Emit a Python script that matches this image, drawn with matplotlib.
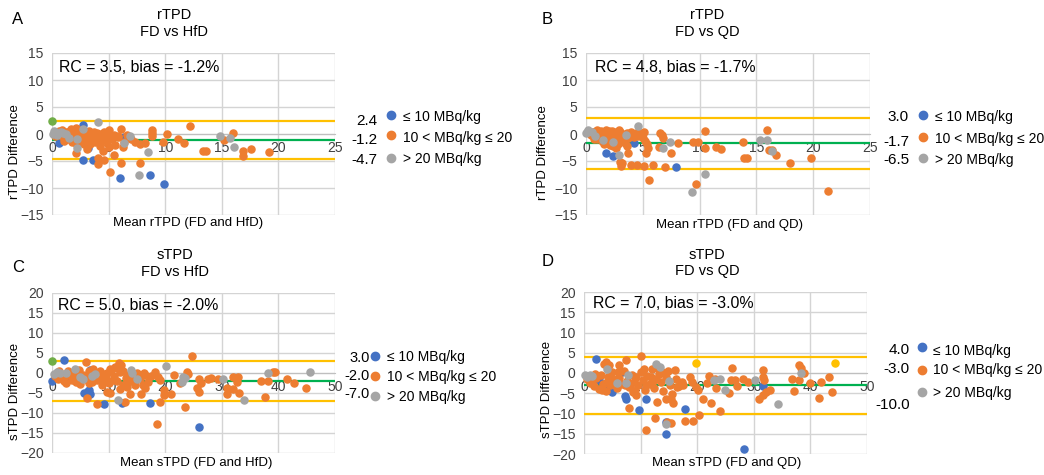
import matplotlib
matplotlib.use('Agg')
import matplotlib.pyplot as plt

plt.rcParams['font.family'] = ['Liberation Sans', 'DejaVu Sans']

BLUE = '#4472C4'
ORANGE = '#ED7D31'
GRAY = '#A5A5A5'
YELLOW = '#FFC000'
GREEN_PT = '#70AD47'
GREEN_LINE = '#00B050'

legend_labels = ['\u2264 10 MBq/kg', '10 < MBq/kg \u2264 20', '> 20 MBq/kg']

# ---------- panel A : rTPD, FD vs HfD ----------
a_blue_x = [0.6, 2.7, 3.2, 2.7, 3.6, 6.0, 8.7, 9.9, 6.4, 1.0]
a_blue_y = [-1.6, 1.7, -2.6, -4.8, -4.8, -8.15, -7.5, -9.3, -0.6, -1.2]
a_orange_x = [12.2, 6.1, 8.8, 8.8, 8.8, 10.2, 16.0, 15.2, 11.1, 11.7, 13.3, 13.6, 16.9, 16.9, 17.6, 19.2,
              9.8, 8.2, 7.75, 7.3, 6.4, 6.3, 4.1, 4.1, 4.6, 5.5, 5.1, 6.1, 7.75, 2.1, 3.1, 4.5, 5.0, 7.0,
              5.8, 6.6,
              0.5, 0.7, 0.9, 1.0, 1.2, 1.3, 1.5, 1.6, 1.7, 1.8, 1.9, 2.0, 2.1, 2.2, 2.3, 2.4, 2.5, 2.6,
              2.7, 2.8, 2.9, 3.0, 3.1, 3.2, 3.3, 3.4, 3.5, 3.6, 3.7, 3.8, 3.9, 4.0, 4.1, 4.2, 4.3, 4.4,
              4.5, 4.6, 4.8, 4.9, 5.0, 5.1, 5.3, 5.5, 5.6, 5.8, 0.3, 0.6, 1.1, 1.4, 2.0, 2.5, 3.0, 3.4,
              2.1, 1.8]
a_orange_y = [1.5, 0.9, 0.7, 0.1, -0.4, 0.0, 0.1, -1.1, -1.0, -1.7, -3.1, -3.1, -3.1, -4.1, -2.7, -3.3,
              -1.4, -1.7, -1.9, -1.4, -1.4, -2.4, -4.5, -5.6, -4.8, -3.9, -7.0, -5.3, -5.4, -3.5, -2.8,
              -3.1, -2.4, -0.9, -0.3, -0.2,
              0.3, -0.2, 0.8, -0.5, 0.4, -1.0, 0.1, -0.6, 0.9, -1.5, -0.1, 0.5, -0.9, -2.0, 0.2, -0.4,
              -1.2, 0.7, -0.2, -1.8, 0.3, -0.7, -1.3, 0.0, 0.6, -0.5, -1.0, -0.2, 0.3, -1.5, -0.3, 0.2,
              -0.8, -2.3, 0.0, -1.2, -0.4, 0.4, -0.6, -1.6, 0.8, -0.1, -0.9, -0.2, -2.0, -0.5, -0.4,
              0.5, -1.3, 0.3, -1.4, 0.3, 0.3, -1.9, 1.1, 0.4]
a_gray_x = [0.1, 0.3, 0.5, 0.8, 0.4, 1.2, 1.5, 2.2, 2.7, 2.2, 4.1, 14.85, 15.7, 16.1, 8.5, 7.7, 6.4,
            6.9, 0.2, 1.0]
a_gray_y = [0.0, 0.3, 0.1, 0.3, -0.2, 0.0, -0.7, -0.9, 1.0, -2.65, 2.3, -0.4, -0.8, -2.4, -3.4, -7.5,
            -1.7, -0.4, 0.5, 0.2]
a_extra_x = [0.0]
a_extra_y = [2.4]

# ---------- panel B : rTPD, FD vs QD ----------
b_blue_x = [1.8, 2.35, 4.2, 7.9]
b_blue_y = [-3.6, -4.1, -1.7, -6.2]
b_orange_x = [10.5, 15.9, 13.8, 13.9, 14.2, 16.1, 16.4, 16.7, 18.0, 19.8, 21.3, 9.65, 5.55, 6.95, 5.9,
              5.1, 4.5, 4.0, 3.1, 3.0, 3.2, 3.7, 5.3, 5.5, 6.4, 7.5, 8.1, 6.5, 6.7, 6.8, 9.45, 9.9,
              11.4, 11.9, 10.5, 2.6, 2.1,
              0.4, 0.6, 0.8, 0.9, 1.0, 1.1, 1.2, 1.3, 1.4, 1.5, 1.6, 1.7, 1.8, 1.9, 2.0, 2.1, 2.2, 2.3,
              2.4, 2.5, 2.6, 2.7, 2.8, 2.9, 3.0, 3.1, 3.2, 3.3, 3.4, 3.6, 3.7, 3.9, 4.0, 4.2, 4.4, 4.6,
              4.8, 5.0, 5.1, 5.2, 5.4, 2.4, 1.6, 3.6, 1.0, 2.0, 2.6, 3.0, 0.7]
b_orange_y = [0.6, 0.7, -1.5, -4.4, -4.4, -3.0, -3.0, -3.9, -5.4, -4.5, -10.6, -9.3, -8.6, -6.05, -5.8,
              -5.9, -5.8, -5.8, -6.0, -5.1, -5.4, -3.5, -3.6, -2.65, -2.35, -3.5, -1.7, 0.25, -0.2, -0.8,
              -1.5, -1.5, -2.35, -2.8, -2.5, -2.6, -2.0,
              -0.2, 0.3, -0.6, 0.5, -1.0, 0.1, -0.4, 0.6, -1.3, -0.1, 0.4, -0.8, 0.7, -1.6, -0.3, 0.2,
              -0.9, 0.6, -0.5, -1.2, 0.3, -0.1, -1.8, 0.8, -0.6, 0.1, -1.1, -0.3, -1.6, 0.2, -0.8,
              -0.2, 0.3, -0.6, 0.2, -0.3, 0.1, -0.7, 0.3, -1.3, -1.8, -2.3, -1.9, -2.2, 0.7, 0.5,
              -0.7, 0.4, -1.0]
b_gray_x = [0.0, 0.2, 0.1, 0.8, 1.5, 2.35, 3.5, 4.6, 2.9, 6.8, 7.4, 10.5, 9.3, 15.3, 15.9, 16.4, 0.5]
b_gray_y = [0.1, 0.7, 0.3, -0.4, -1.2, -1.5, -0.2, 1.5, -3.9, -2.5, -1.4, -7.4, -10.8, -1.2, -1.2,
            -3.1, 0.4]

# ---------- panel C : sTPD, FD vs HfD ----------
c_blue_x = [2.2, 0.0, 6.7, 5.7, 6.3, 6.8, 6.6, 9.2, 12.3, 17.3, 25.9, 2.8]
c_blue_y = [3.25, -2.0, 0.75, -4.9, -4.5, -5.3, -4.25, -7.75, -7.6, -7.4, -13.6, -1.5]
c_orange_x = [24.7, 5.95, 11.8, 12.2, 11.1, 39.1, 39.4, 41.5, 42.8, 44.9, 36.9, 38.1, 37.6, 31.9, 32.9,
              32.6, 32.0, 33.1, 30.9, 30.9, 28.1, 29.4, 25.9, 26.4, 25.7, 25.9, 23.5, 23.8, 22.6, 21.5,
              21.0, 18.5, 19.0, 19.7, 19.8, 18.2, 18.8, 19.1, 15.8, 16.4, 17.0, 13.8, 12.9, 10.2, 9.8,
              8.0, 6.2, 16.2, 17.5, 14.7, 13.2, 12.0, 8.9, 27.5, 24.0,
              0.5, 1.0, 1.5, 2.0, 2.5, 3.0, 3.5, 4.0, 4.5, 5.0, 5.5, 6.0, 6.5, 7.0, 7.5, 8.0, 8.5,
              9.0, 9.5, 10.0, 10.5, 11.0, 11.5, 12.0, 12.5, 13.0, 13.5, 14.0, 14.5, 15.5, 16.0, 16.5,
              1.2, 2.8, 4.2, 5.8, 7.2, 8.8, 9.8, 10.8, 11.4, 12.6, 3.3, 6.6, 9.2, 13.2, 15.0, 2.2,
              4.8, 10.2]
c_orange_y = [4.3, 2.7, 2.4, 2.0, 1.6, 0.2, 0.2, -1.5, -2.4, -3.8, -1.9, -1.9, -5.9, -0.9, -1.1, -2.3,
              -4.1, -4.9, -3.8, -5.3, -1.3, -1.5, -1.6, -2.4, -3.8, -4.7, -8.4, 0.2, -2.4, -0.5, -5.2,
              -12.8, -7.3, -5.5, -4.25, 0.3, -0.9, -1.75, -5.25, -3.7, -2.2, -5.2, -7.2, -5.1, -4.7,
              -7.75, -6.2, 0.1, -0.8, -2.9, -3.4, -3.9, -3.1, -1.6, -0.2,
              -0.8, -1.5, -0.2, -1.0, -2.5, -0.5, -1.8, 0.3, -1.2, -2.8, -0.6, -1.6, 0.5, -2.2, -0.9,
              -1.8, 0.4, -0.3, -1.4, -2.6, 0.8, -0.8, -1.9, 0.2, -2.9, -1.3, -0.4, -2.1, -0.9, -1.5,
              -3.0, -0.5, 0.5, 0.6, -2.2, -1.0, 0.9, -1.2, 0.1, -1.7, 1.2, 0.4, -0.2, -2.6, -2.2,
              -1.8, 0.0, -1.9, 0.8, 1.1]
c_gray_x = [0.3, 0.8, 1.5, 4.1, 5.0, 7.6, 7.0, 13.9, 14.1, 15.0, 11.6, 20.1, 23.2, 23.5, 22.9, 30.3,
            33.9, 38.2, 45.6, 2.5, 5.5]
c_gray_y = [-0.2, 0.2, 0.0, 1.0, -1.0, -0.3, -0.8, 0.75, -0.1, -1.6, -6.75, 1.75, -0.9, -1.3, -2.2,
            -1.6, -6.75, -0.1, 0.3, 0.1, -1.5]
c_extra_x = [0.0]
c_extra_y = [3.0]

# ---------- panel D : sTPD, FD vs QD ----------
d_blue_x = [2.2, 6.8, 5.0, 7.2, 7.5, 10.9, 9.7, 17.8, 14.5, 14.5, 28.3, 31.7, 2.6, 4.5]
d_blue_y = [3.4, 0.3, -4.6, -5.8, -6.5, -6.5, -9.1, -9.0, -12.0, -15.1, -18.8, -3.2, -1.8, -3.3]
d_orange_x = [10.1, 26.1, 16.0, 18.7, 22.1, 23.1, 23.4, 26.0, 25.7, 26.6, 28.1, 31.6, 31.6, 31.8, 31.0,
              31.6, 32.2, 32.8, 36.8, 37.1, 37.9, 38.3, 37.9, 38.9, 40.0, 41.6, 43.2, 43.8, 41.8, 24.0,
              22.5, 21.0, 20.3, 19.3, 17.9, 20.1, 19.7, 19.0, 15.8, 15.4, 15.5, 15.3, 14.7, 12.6, 11.0,
              12.96, 14.4, 7.9, 9.2, 8.7, 7.5, 6.1, 3.9, 4.5, 21.8, 27.1, 17.5, 16.5, 29.0, 3.5,
              0.6, 1.0, 1.4, 1.8, 2.2, 2.6, 3.0, 3.4, 3.8, 4.2, 4.6, 5.0, 5.4, 5.8, 6.2, 6.6, 7.0,
              7.6, 8.0, 8.4, 8.8, 9.2, 9.6, 10.0, 10.4, 10.8, 11.2, 11.6, 12.0, 12.4, 12.8, 13.2,
              13.6, 14.0, 14.4, 14.8, 15.2, 16.2, 16.8, 17.3, 2.0, 4.0, 6.0, 8.2, 10.6, 12.2, 3.2,
              9.0, 11.0, 13.0, 1.5, 5.2, 7.2, 11.8, 13.8]
d_orange_y = [4.2, 1.15, 0.74, -0.9, -0.74, -1.56, -3.8, -1.7, -4.9, -1.7, -1.6, 0.74, -0.9, -1.7, -6.3,
              -5.4, -4.6, -4.2, -1.56, -4.4, 2.0, 1.15, -1.7, -0.1, -2.4, -6.1, -1.1, -4.6, -2.1, -9.5,
              -7.5, -6.5, -10.4, -11.8, -11.9, -4.2, -3.4, -2.1, -7.5, -6.3, -5.3, -12.4, -12.0, -11.2,
              -14.1, -7.1, -6.5, -8.7, -5.4, -4.6, 3.2, 2.0, 2.8, 2.0, -2.5, -3.3, -3.0, -3.5, -2.2, 2.3,
              -1.5, -2.5, -0.8, -3.2, -1.2, -4.0, -0.4, -2.6, -4.5, -1.0, -3.0, 0.3, -2.0, -3.8, -1.3,
              -2.8, 0.6, -1.9, -3.5, -0.6, -2.3, -1.0, -3.0, 0.2, -1.7, -4.2, -0.8, -2.6, 1.0, -3.6,
              -1.4, -0.3, -2.2, -4.5, -1.1, 0.5, -2.9, -1.6, -3.2, -2.1, -0.2, -2.2, 0.2, -2.8, 0.9,
              -2.0, -4.2, -4.2, -3.0, 1.2, -1.8, -1.5, -3.0, -1.0, 0.2]
d_gray_x = [0.12, 1.0, 0.5, 1.5, 4.1, 7.7, 5.9, 7.5, 12.8, 13.5, 14.4, 23.0, 24.1, 24.9, 30.2, 34.2,
            38.3, 15.1]
d_gray_y = [-0.5, -0.5, -0.9, -0.8, 0.9, -0.5, -2.4, -2.55, 2.2, 1.6, -12.7, -1.7, -1.6, -4.2, -1.7,
            -7.65, -0.1, -1.9]
d_extra_x = [19.7, 44.3]
d_extra_y = [2.4, 2.4]

# limits of agreement: upper, bias, lower
a_loa = [2.4, -1.2, -4.7]
b_loa = [3.0, -1.7, -6.5]
c_loa = [3.0, -2.0, -7.0]
d_loa = [4.0, -3.0, -10.0]

W, H = 1044, 475
fig = plt.figure(figsize=(W / 100, H / 100), dpi=100)


def px(x, y):
    return x / W, 1 - y / H


def make_panel(rect, xmax, xstep, ylim, blue, orange, gray, extra, extra_color, loa,
               rc_text, rc_xy, ylabel, xlabel, xlabel_xy, ylabel_xy):
    left, top, right, bottom = rect
    ax = fig.add_axes([left / W, 1 - bottom / H, (right - left) / W, (bottom - top) / H])
    ax.set_xlim(0, xmax)
    ax.set_ylim(-ylim, ylim)
    ax.set_xticks(range(0, xmax + 1, xstep))
    ax.set_yticks(range(-ylim, ylim + 1, 5))
    ax.grid(True, color='#d4d4d4', linewidth=1.0)
    ax.set_axisbelow(True)
    for s in ['top', 'right', 'left']:
        ax.spines[s].set_visible(False)
    ax.spines['bottom'].set_position(('data', 0))
    ax.spines['bottom'].set_color('#bfbfbf')
    ax.tick_params(length=0, labelsize=10, labelcolor='#404040')
    ax.tick_params(axis='x', pad=5)
    ax.tick_params(axis='y', pad=6)

    ax.axhline(loa[0], color=YELLOW, lw=1.6, zorder=2)
    ax.axhline(loa[2], color=YELLOW, lw=1.6, zorder=2)
    ax.axhline(loa[1], color=GREEN_LINE, lw=1.6, zorder=2)

    ax.scatter(blue[0], blue[1], s=26, color=BLUE, zorder=3, clip_on=False)
    ax.scatter(orange[0], orange[1], s=26, color=ORANGE, zorder=3, clip_on=False)
    ax.scatter(gray[0], gray[1], s=26, color=GRAY, zorder=3, clip_on=False)
    ax.scatter(extra[0], extra[1], s=26, color=extra_color, zorder=3, clip_on=False)

    fig.text(*px(*rc_xy), rc_text, fontsize=11.4, va='center', ha='left')
    fig.text(*px(*ylabel_xy), ylabel, fontsize=9.5, rotation=90, va='center', ha='center')
    fig.text(*px(*xlabel_xy), xlabel, fontsize=9.5, va='center', ha='center')
    return ax


def add_titles(letter, letter_xy, t1, t2, cx, y1, y2):
    fig.text(*px(*letter_xy), letter, fontsize=12, va='center', ha='left')
    fig.text(*px(cx, y1), t1, fontsize=10.5, va='center', ha='center')
    fig.text(*px(cx, y2), t2, fontsize=10.5, va='center', ha='center')


def add_legend(loa, num_right, num_ys, mark_x, mark_ys, text_x, text_ys, numsize=11):
    for v, y in zip(loa, num_ys):
        fig.text(*px(num_right, y), '{:.1f}'.format(v), fontsize=numsize, va='center', ha='right')
    for col, y, lab, ty in zip([BLUE, ORANGE, GRAY], mark_ys, legend_labels, text_ys):
        fig.lines.append(plt.Line2D([mark_x / W], [1 - y / H], marker='o', markersize=6,
                                    color=col, transform=fig.transFigure, figure=fig))
        fig.text(*px(text_x, ty), lab, fontsize=10, va='center', ha='left')


# A
make_panel((52, 53, 335, 215), 25, 5, 15, (a_blue_x, a_blue_y), (a_orange_x, a_orange_y),
           (a_gray_x, a_gray_y), (a_extra_x, a_extra_y), GREEN_PT, a_loa,
           'RC = 3.5, bias = -1.2%', (59, 67), 'rTPD Difference', 'Mean rTPD (FD and HfD)',
           (188, 223), (15, 152))
add_titles('A', (12, 20), 'rTPD', 'FD vs HfD', 174, 15, 32)
add_legend(a_loa, 377, [121, 140, 160], 391, [115, 135, 158], 403, [117, 138, 159])

# B
make_panel((586, 53, 870, 215), 25, 5, 15, (b_blue_x, b_blue_y), (b_orange_x, b_orange_y),
           (b_gray_x, b_gray_y), ([], []), GRAY, b_loa,
           'RC = 4.8, bias = -1.7%', (595, 68), 'rTPD Difference', 'Mean rTPD (FD and QD)',
           (729, 225), (543, 153))
add_titles('B', (542, 20), 'rTPD', 'FD vs QD', 707, 15, 32)
add_legend(b_loa, 909, [117, 142, 160], 923, [115, 137, 158], 935, [117, 139, 160])

# C
make_panel((52, 293, 335, 453), 50, 10, 20, (c_blue_x, c_blue_y), (c_orange_x, c_orange_y),
           (c_gray_x, c_gray_y), (c_extra_x, c_extra_y), GREEN_PT, c_loa,
           'RC = 5.0, bias = -2.0%', (58, 306), 'sTPD Difference', 'Mean sTPD (FD and HfD)',
           (196, 463), (15, 391))
add_titles('C', (12, 267), 'sTPD', 'FD vs HfD', 175, 255, 272)
add_legend(c_loa, 370, [358, 376, 394], 375, [356, 376, 396], 387, [357, 377, 397], numsize=10.5)

# D
make_panel((584, 292, 867, 454), 50, 10, 20, (d_blue_x, d_blue_y), (d_orange_x, d_orange_y),
           (d_gray_x, d_gray_y), (d_extra_x, d_extra_y), YELLOW, d_loa,
           'RC = 7.0, bias = -3.0%', (593, 303), 'sTPD Difference', 'Mean sTPD (FD and QD)',
           (727, 463), (547, 389))
add_titles('D', (542, 262), 'sTPD', 'FD vs QD', 707, 255, 271)
add_legend(d_loa, 910, [350, 369, 405], 922, [347, 370, 392], 933, [351, 370, 393])

fig.savefig('out.png', dpi=100)
